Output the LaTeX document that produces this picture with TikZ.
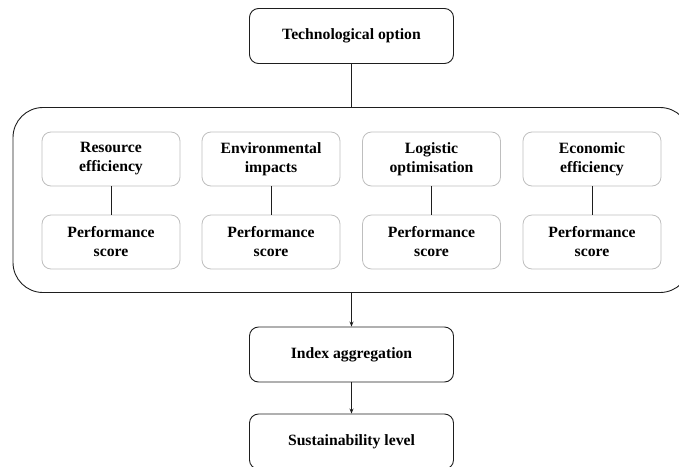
\documentclass[tikz,border=0pt]{standalone}
\usepackage{fontspec}
\setmainfont{Liberation Serif}
\usetikzlibrary{arrows.meta,positioning}
\definecolor{framegray}{RGB}{190,190,190}
\definecolor{linedark}{RGB}{30,30,30}
\tikzset{
  mainbox/.style={draw=linedark,line width=0.9pt,rounded corners=9pt,
    minimum width=204pt,minimum height=55pt,align=center,
    font=\fontsize{15.7}{19}\selectfont\bfseries},
  critbox/.style={draw=framegray,line width=0.8pt,rounded corners=9pt,
    minimum width=138pt,minimum height=54pt,align=center,inner sep=2pt,
    font=\fontsize{15.7}{19}\selectfont\bfseries},
  link/.style={draw=linedark,line width=0.9pt},
  flow/.style={link,-{Stealth[length=5pt,width=4pt]}},
}
\begin{document}
\begin{tikzpicture}[x=1pt,y=-1pt]
\useasboundingbox (0,0) rectangle (679,466);
% top option
\node[mainbox] (tech) at (351.5,36) {Technological option};
% criteria group
\node[draw=linedark,line width=0.9pt,rounded corners=30pt,
      minimum width=677pt,minimum height=185pt] (group) at (351.5,200) {};
\foreach \x/\name/\txt in {111/res/Resource\\efficiency,
                           271/env/Environmental\\impacts,
                           431.5/log/Logistic\\optimisation,
                           592/eco/Economic\\efficiency}{
  \node[critbox] (\name) at (\x,159) {\txt};
  \node[critbox] (\name-score) at (\x,242) {Performance\\score};
  \draw[link] (\name) -- (\name-score);
}
\draw[link] (tech) -- (group);
% aggregation
\node[mainbox] (index) at (351.5,354.5) {Index aggregation};
\node[mainbox] (level) at (351.5,441.5) {Sustainability level};
\draw[flow] (group) -- (index);
\draw[flow] (index) -- (level);
\end{tikzpicture}
\end{document}
